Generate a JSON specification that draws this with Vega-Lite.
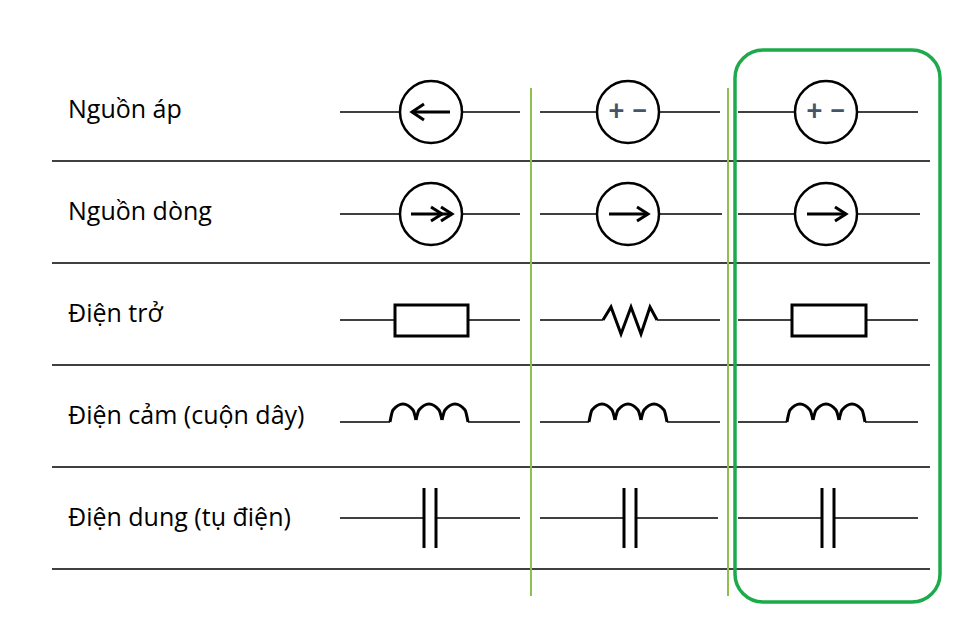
{
  "$schema": "https://vega.github.io/schema/vega-lite/v6.json",
  "width": 958,
  "height": 625,
  "padding": 0,
  "autosize": {"type": "fit", "contains": "padding"},
  "background": "white",
  "config": {"view": {"stroke": null}},
  "datasets": {
    "paths": [
      {"id": "s1", "k": "sep", "x": 52, "y": 161}, {"id": "s1", "k": "sep", "x": 930, "y": 161},
      {"id": "s2", "k": "sep", "x": 52, "y": 263}, {"id": "s2", "k": "sep", "x": 930, "y": 263},
      {"id": "s3", "k": "sep", "x": 52, "y": 365}, {"id": "s3", "k": "sep", "x": 930, "y": 365},
      {"id": "s4", "k": "sep", "x": 52, "y": 467}, {"id": "s4", "k": "sep", "x": 930, "y": 467},
      {"id": "s5", "k": "sep", "x": 52, "y": 569}, {"id": "s5", "k": "sep", "x": 930, "y": 569},
      {"id": "g1", "k": "green", "x": 531, "y": 88}, {"id": "g1", "k": "green", "x": 531, "y": 596},
      {"id": "g2", "k": "green", "x": 728, "y": 88}, {"id": "g2", "k": "green", "x": 728, "y": 596},

      {"id": "w11a", "k": "wire", "x": 340, "y": 112}, {"id": "w11a", "k": "wire", "x": 400, "y": 112},
      {"id": "w11b", "k": "wire", "x": 462, "y": 112}, {"id": "w11b", "k": "wire", "x": 520, "y": 112},
      {"id": "w12a", "k": "wire", "x": 540, "y": 112}, {"id": "w12a", "k": "wire", "x": 597, "y": 112},
      {"id": "w12b", "k": "wire", "x": 659, "y": 112}, {"id": "w12b", "k": "wire", "x": 720, "y": 112},
      {"id": "w13a", "k": "wire", "x": 738, "y": 112}, {"id": "w13a", "k": "wire", "x": 795, "y": 112},
      {"id": "w13b", "k": "wire", "x": 857, "y": 112}, {"id": "w13b", "k": "wire", "x": 918, "y": 112},
      {"id": "a1s", "k": "arrow", "o": 1, "x": 450, "y": 112}, {"id": "a1s", "k": "arrow", "o": 2, "x": 412, "y": 112},
      {"id": "a1h", "k": "arrow", "o": 1, "x": 424, "y": 104}, {"id": "a1h", "k": "arrow", "o": 2, "x": 412, "y": 112}, {"id": "a1h", "k": "arrow", "o": 3, "x": 424, "y": 120},

      {"id": "w21a", "k": "wire", "x": 340, "y": 214}, {"id": "w21a", "k": "wire", "x": 400, "y": 214},
      {"id": "w21b", "k": "wire", "x": 462, "y": 214}, {"id": "w21b", "k": "wire", "x": 520, "y": 214},
      {"id": "w22a", "k": "wire", "x": 540, "y": 214}, {"id": "w22a", "k": "wire", "x": 597, "y": 214},
      {"id": "w22b", "k": "wire", "x": 659, "y": 214}, {"id": "w22b", "k": "wire", "x": 722, "y": 214},
      {"id": "w23a", "k": "wire", "x": 738, "y": 214}, {"id": "w23a", "k": "wire", "x": 795, "y": 214},
      {"id": "w23b", "k": "wire", "x": 857, "y": 214}, {"id": "w23b", "k": "wire", "x": 920, "y": 214},
      {"id": "a2s", "k": "arrow", "o": 1, "x": 411, "y": 214}, {"id": "a2s", "k": "arrow", "o": 2, "x": 452, "y": 214},
      {"id": "a2h", "k": "arrow", "o": 1, "x": 441, "y": 207}, {"id": "a2h", "k": "arrow", "o": 2, "x": 452, "y": 214}, {"id": "a2h", "k": "arrow", "o": 3, "x": 441, "y": 221},
      {"id": "a2i", "k": "arrow", "o": 1, "x": 431, "y": 207}, {"id": "a2i", "k": "arrow", "o": 2, "x": 442, "y": 214}, {"id": "a2i", "k": "arrow", "o": 3, "x": 431, "y": 221},
      {"id": "a3s", "k": "arrow", "o": 1, "x": 609, "y": 214}, {"id": "a3s", "k": "arrow", "o": 2, "x": 648, "y": 214},
      {"id": "a3h", "k": "arrow", "o": 1, "x": 637, "y": 207}, {"id": "a3h", "k": "arrow", "o": 2, "x": 648, "y": 214}, {"id": "a3h", "k": "arrow", "o": 3, "x": 637, "y": 221},
      {"id": "a4s", "k": "arrow", "o": 1, "x": 807, "y": 214}, {"id": "a4s", "k": "arrow", "o": 2, "x": 846, "y": 214},
      {"id": "a4h", "k": "arrow", "o": 1, "x": 835, "y": 207}, {"id": "a4h", "k": "arrow", "o": 2, "x": 846, "y": 214}, {"id": "a4h", "k": "arrow", "o": 3, "x": 835, "y": 221},

      {"id": "w31a", "k": "wire", "x": 340, "y": 320}, {"id": "w31a", "k": "wire", "x": 395, "y": 320},
      {"id": "w31b", "k": "wire", "x": 468, "y": 320}, {"id": "w31b", "k": "wire", "x": 520, "y": 320},
      {"id": "w32a", "k": "wire", "x": 540, "y": 320}, {"id": "w32a", "k": "wire", "x": 603, "y": 320},
      {"id": "w32b", "k": "wire", "x": 657, "y": 320}, {"id": "w32b", "k": "wire", "x": 720, "y": 320},
      {"id": "w33a", "k": "wire", "x": 738, "y": 320}, {"id": "w33a", "k": "wire", "x": 792, "y": 320},
      {"id": "w33b", "k": "wire", "x": 866, "y": 320}, {"id": "w33b", "k": "wire", "x": 918, "y": 320},
      {"id": "z", "k": "arrow", "o": 1, "x": 603, "y": 320},
      {"id": "z", "k": "arrow", "o": 2, "x": 611, "y": 307}, {"id": "z", "k": "arrow", "o": 3, "x": 621, "y": 334},
      {"id": "z", "k": "arrow", "o": 4, "x": 631, "y": 307}, {"id": "z", "k": "arrow", "o": 5, "x": 641, "y": 334},
      {"id": "z", "k": "arrow", "o": 6, "x": 650, "y": 307}, {"id": "z", "k": "arrow", "o": 7, "x": 657, "y": 320},

      {"id": "w41a", "k": "wire", "x": 340, "y": 422}, {"id": "w41a", "k": "wire", "x": 390, "y": 422},
      {"id": "w41b", "k": "wire", "x": 468, "y": 422}, {"id": "w41b", "k": "wire", "x": 520, "y": 422},
      {"id": "w42a", "k": "wire", "x": 540, "y": 422}, {"id": "w42a", "k": "wire", "x": 589, "y": 422},
      {"id": "w42b", "k": "wire", "x": 667, "y": 422}, {"id": "w42b", "k": "wire", "x": 720, "y": 422},
      {"id": "w43a", "k": "wire", "x": 738, "y": 422}, {"id": "w43a", "k": "wire", "x": 787, "y": 422},
      {"id": "w43b", "k": "wire", "x": 865, "y": 422}, {"id": "w43b", "k": "wire", "x": 918, "y": 422},

      {"id": "w51a", "k": "wire", "x": 340, "y": 518}, {"id": "w51a", "k": "wire", "x": 424, "y": 518},
      {"id": "w51b", "k": "wire", "x": 436, "y": 518}, {"id": "w51b", "k": "wire", "x": 520, "y": 518},
      {"id": "w52a", "k": "wire", "x": 540, "y": 518}, {"id": "w52a", "k": "wire", "x": 624, "y": 518},
      {"id": "w52b", "k": "wire", "x": 636, "y": 518}, {"id": "w52b", "k": "wire", "x": 718, "y": 518},
      {"id": "w53a", "k": "wire", "x": 738, "y": 518}, {"id": "w53a", "k": "wire", "x": 822, "y": 518},
      {"id": "w53b", "k": "wire", "x": 834, "y": 518}, {"id": "w53b", "k": "wire", "x": 918, "y": 518},
      {"id": "c1a", "k": "arrow", "o": 1, "x": 424, "y": 488}, {"id": "c1a", "k": "arrow", "o": 2, "x": 424, "y": 548},
      {"id": "c1b", "k": "arrow", "o": 1, "x": 436, "y": 488}, {"id": "c1b", "k": "arrow", "o": 2, "x": 436, "y": 548},
      {"id": "c2a", "k": "arrow", "o": 1, "x": 624, "y": 488}, {"id": "c2a", "k": "arrow", "o": 2, "x": 624, "y": 548},
      {"id": "c2b", "k": "arrow", "o": 1, "x": 636, "y": 488}, {"id": "c2b", "k": "arrow", "o": 2, "x": 636, "y": 548},
      {"id": "c3a", "k": "arrow", "o": 1, "x": 822, "y": 488}, {"id": "c3a", "k": "arrow", "o": 2, "x": 822, "y": 548},
      {"id": "c3b", "k": "arrow", "o": 1, "x": 834, "y": 488}, {"id": "c3b", "k": "arrow", "o": 2, "x": 834, "y": 548}
    ],
    "coils": [
      {"id": "h1", "x": 390, "y": 422}, {"id": "h1", "x": 393, "y": 410}, {"id": "h1", "x": 403, "y": 404}, {"id": "h1", "x": 413, "y": 410}, {"id": "h1", "x": 416, "y": 420},
      {"id": "h2", "x": 416, "y": 420}, {"id": "h2", "x": 419, "y": 410}, {"id": "h2", "x": 429, "y": 404}, {"id": "h2", "x": 439, "y": 410}, {"id": "h2", "x": 442, "y": 420},
      {"id": "h3", "x": 442, "y": 420}, {"id": "h3", "x": 445, "y": 410}, {"id": "h3", "x": 455, "y": 404}, {"id": "h3", "x": 465, "y": 410}, {"id": "h3", "x": 468, "y": 422},
      {"id": "h4", "x": 589, "y": 422}, {"id": "h4", "x": 592, "y": 410}, {"id": "h4", "x": 602, "y": 404}, {"id": "h4", "x": 612, "y": 410}, {"id": "h4", "x": 615, "y": 420},
      {"id": "h5", "x": 615, "y": 420}, {"id": "h5", "x": 618, "y": 410}, {"id": "h5", "x": 628, "y": 404}, {"id": "h5", "x": 638, "y": 410}, {"id": "h5", "x": 641, "y": 420},
      {"id": "h6", "x": 641, "y": 420}, {"id": "h6", "x": 644, "y": 410}, {"id": "h6", "x": 654, "y": 404}, {"id": "h6", "x": 664, "y": 410}, {"id": "h6", "x": 667, "y": 422},
      {"id": "h7", "x": 787, "y": 422}, {"id": "h7", "x": 790, "y": 410}, {"id": "h7", "x": 800, "y": 404}, {"id": "h7", "x": 810, "y": 410}, {"id": "h7", "x": 813, "y": 420},
      {"id": "h8", "x": 813, "y": 420}, {"id": "h8", "x": 816, "y": 410}, {"id": "h8", "x": 826, "y": 404}, {"id": "h8", "x": 836, "y": 410}, {"id": "h8", "x": 839, "y": 420},
      {"id": "h9", "x": 839, "y": 420}, {"id": "h9", "x": 842, "y": 410}, {"id": "h9", "x": 852, "y": 404}, {"id": "h9", "x": 862, "y": 410}, {"id": "h9", "x": 865, "y": 422}
    ],
    "circles": [
      {"x": 431, "y": 112}, {"x": 628, "y": 112}, {"x": 826, "y": 112},
      {"x": 431, "y": 214}, {"x": 628, "y": 214}, {"x": 826, "y": 214}
    ],
    "boxes": [
      {"x": 395, "x2": 468, "y": 305, "y2": 336},
      {"x": 792, "x2": 866, "y": 305, "y2": 336}
    ],
    "labels": [
      {"t": "Nguồn áp", "x": 68, "y": 110},
      {"t": "Nguồn dòng", "x": 68, "y": 212},
      {"t": "Điện trở", "x": 68, "y": 314},
      {"t": "Điện cảm (cuộn dây)", "x": 68, "y": 416},
      {"t": "Điện dung (tụ điện)", "x": 68, "y": 518}
    ],
    "signs": [{"x": 628, "y": 112}, {"x": 826, "y": 112}],
    "frame": [{"x": 735, "x2": 940, "y": 50, "y2": 602}]
  },
  "data": {"name": "paths"},
  "encoding": {
    "x": {"field": "x", "type": "quantitative", "scale": {"domain": [0, 958], "nice": false, "zero": false}, "axis": null},
    "y": {"field": "y", "type": "quantitative", "scale": {"domain": [0, 625], "nice": false, "zero": false, "reverse": true}, "axis": null}
  },
  "layer": [
    {
      "transform": [{"filter": "datum.k == 'sep'"}],
      "mark": {"type": "line", "color": "black", "strokeWidth": 1.3},
      "encoding": {"detail": {"field": "id"}}
    },
    {
      "transform": [{"filter": "datum.k == 'green'"}],
      "mark": {"type": "line", "color": "#8cc152", "strokeWidth": 2},
      "encoding": {"detail": {"field": "id"}}
    },
    {
      "transform": [{"filter": "datum.k == 'wire'"}],
      "mark": {"type": "line", "color": "black", "strokeWidth": 1.5},
      "encoding": {"detail": {"field": "id"}}
    },
    {
      "data": {"name": "coils"},
      "mark": {"type": "line", "color": "black", "strokeWidth": 3, "interpolate": "monotone"},
      "encoding": {"detail": {"field": "id"}}
    },
    {
      "data": {"name": "circles"},
      "mark": {"type": "point", "shape": "circle", "size": 3844, "filled": false, "fill": "white", "fillOpacity": 0, "stroke": "black", "strokeWidth": 2.5, "opacity": 1}
    },
    {
      "transform": [{"filter": "datum.k == 'arrow'"}],
      "mark": {"type": "line", "color": "black", "strokeWidth": 3, "strokeJoin": "miter"},
      "encoding": {"detail": {"field": "id"}, "order": {"field": "o", "type": "quantitative"}}
    },
    {
      "data": {"name": "boxes"},
      "mark": {"type": "rect", "fill": "white", "stroke": "black", "strokeWidth": 3},
      "encoding": {"x2": {"field": "x2"}, "y2": {"field": "y2"}}
    },
    {
      "data": {"name": "frame"},
      "mark": {"type": "rect", "fill": null, "fillOpacity": 0, "stroke": "#1daa4b", "strokeWidth": 3.5, "cornerRadius": 28},
      "encoding": {"x2": {"field": "x2"}, "y2": {"field": "y2"}}
    },
    {
      "data": {"name": "signs"},
      "mark": {"type": "text", "text": "+ −", "font": "Lato", "fontSize": 28, "fontWeight": "bold", "color": "#44546a", "baseline": "middle", "align": "center"}
    },
    {
      "data": {"name": "labels"},
      "mark": {"type": "text", "font": "Open Sans", "fontSize": 25, "color": "black", "align": "left", "baseline": "middle"},
      "encoding": {"text": {"field": "t"}}
    }
  ]
}
